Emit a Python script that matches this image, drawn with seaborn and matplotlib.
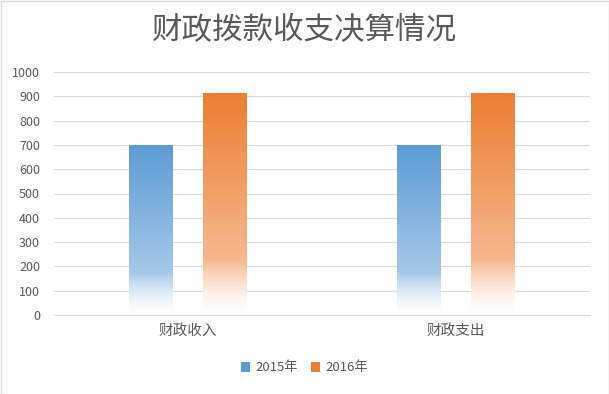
import numpy as np
import pandas as pd
import matplotlib
matplotlib.use('Agg')
import matplotlib.pyplot as plt
import seaborn as sns
from matplotlib.colors import to_rgb
from matplotlib.patches import Patch, Rectangle

# data
categories = ['财政收入', '财政支出']
years = ['2015年', '2016年']
values_2015 = [700, 700]
values_2016 = [915, 915]
colors = ['#5B9BD5', '#ED7D31']
yticks = list(range(0, 1001, 100))
title = '财政拨款收支决算情况'

df = pd.DataFrame({
    'cat': categories * 2,
    'year': [years[0]] * 2 + [years[1]] * 2,
    'value': values_2015 + values_2016,
})

sns.set_style('white')
plt.rcParams['font.family'] = ['Noto Sans CJK SC', 'DejaVu Sans']
gray = '#595959'

fig = plt.figure(figsize=(6.09, 3.94), dpi=100)
ax = fig.add_axes([54 / 609, 1 - 315 / 394, 536 / 609, 243 / 394])
sns.barplot(data=df, x='cat', y='value', hue='year', hue_order=years,
            palette=colors, saturation=1, width=0.55, gap=0.41, ax=ax,
            legend=False, zorder=3)

# gradient fill: colour lightens slowly, then fades to white near the bottom
knee, fk = 0.25, 0.55
t = np.linspace(1, 0, 512)[:, None]
f = np.where(t >= knee, fk + (1 - fk) * (t - knee) / (1 - knee),
             fk * (t / knee) ** 1.5)
ax.set_ylim(0, 1000)
for patch in list(ax.patches):
    x0, y0 = patch.get_x(), patch.get_y()
    w, h = patch.get_width(), patch.get_height()
    c = np.array(to_rgb(patch.get_facecolor()))
    img = (c[None, :] * f + (1 - f))[:, None, :]
    im = ax.imshow(img, extent=[x0, x0 + w, y0, y0 + h], aspect='auto',
                   zorder=3, interpolation='bilinear')
    im.set_clip_path(patch)
    patch.set_facecolor('none')
    patch.set_edgecolor('none')
ax.set_xlim(-0.5, 1.5)
ax.set_ylim(0, 1000)

ax.set_yticks(yticks)
ax.yaxis.grid(True, color='#D9D9D9', lw=0.8, zorder=0)
ax.set_axisbelow(True)
for s in ['top', 'right', 'left']:
    ax.spines[s].set_visible(False)
ax.spines['bottom'].set_color('#D9D9D9')
ax.spines['bottom'].set_zorder(4)
ax.tick_params(axis='y', length=0, pad=10, labelsize=9, labelcolor=gray)
ax.tick_params(axis='x', length=0, pad=6, labelsize=10.5, labelcolor=gray)
ax.set_xlabel('')
ax.set_ylabel('')

fig.text(0.5, 1 - 31 / 394, title, ha='center', va='center',
         fontsize=22, color=gray)

handles = [Patch(facecolor=c, edgecolor='none') for c in colors]
fig.legend(handles, years, loc='center', bbox_to_anchor=(0.5, 1 - 368 / 394),
           ncol=2, frameon=False, fontsize=9.5, labelcolor=gray,
           handlelength=0.7, handleheight=0.7, handletextpad=0.4,
           columnspacing=1.0)

fig.patches.append(Rectangle((0.5 / 609, 0.5 / 394), 1 - 1 / 609, 1 - 1 / 394,
                             transform=fig.transFigure, fill=False,
                             edgecolor='#D9D9D9', lw=1))

fig.savefig('out.png', dpi=100)
